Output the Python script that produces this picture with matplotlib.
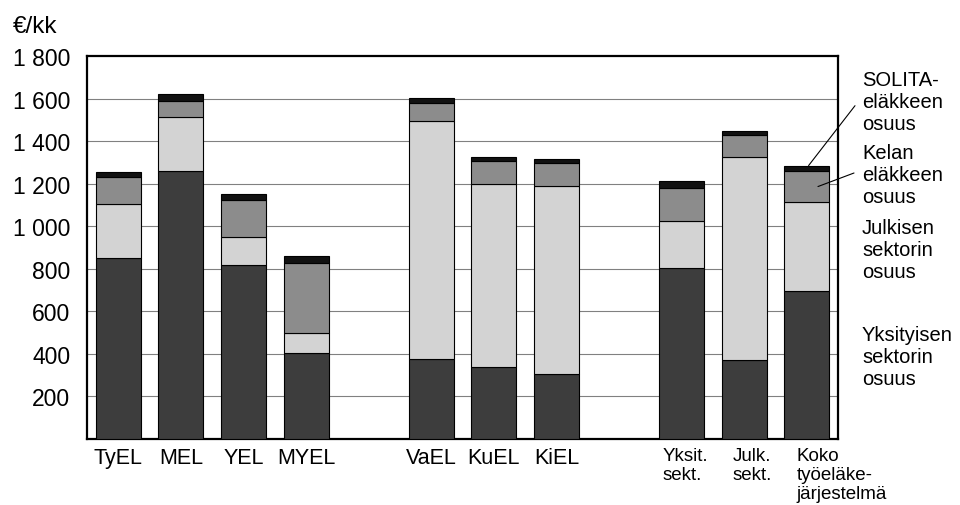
import matplotlib
matplotlib.use('Agg')
import matplotlib.pyplot as plt
import matplotlib.transforms as mtransforms
import numpy as np

plt.rcParams['font.family'] = ['Liberation Sans', 'DejaVu Sans']

categories = ['TyEL', 'MEL', 'YEL', 'MYEL', 'VaEL', 'KuEL', 'KiEL',
              'Yksit.\nsekt.', 'Julk.\nsekt.', 'Koko\ntyöeläke-\njärjestelmä']
yksityinen = [850, 1260, 818, 405, 375, 340, 305, 805, 373, 697]
julkinen = [255, 252, 133, 93, 1120, 857, 883, 218, 954, 418]
kela = [125, 75, 170, 330, 85, 108, 108, 158, 100, 143]
solita = [27, 35, 30, 32, 22, 20, 18, 32, 22, 27]
series_labels = ['Yksityisen\nsektorin\nosuus', 'Julkisen\nsektorin\nosuus',
                 'Kelan\neläkkeen\nosuus', 'SOLITA-\neläkkeen\nosuus']
yticks = [200, 400, 600, 800, 1000, 1200, 1400, 1600, 1800]
ytick_labels = ['200', '400', '600', '800', '1 000', '1 200', '1 400', '1 600', '1 800']
unit_label = '€/kk'

# layout: groups separated by empty slots
slots = np.array([0, 1, 2, 3, 5, 6, 7, 9, 10, 11], dtype=float)
colors = ['#3d3d3d', '#d3d3d3', '#8c8c8c', '#111111']

fig = plt.figure(figsize=(9.6, 5.06), dpi=100)
ax = fig.add_axes([87/960, 1-440/506, (838-87)/960, (440-57)/506])

series = [yksityinen, julkinen, kela, solita]
bottom = np.zeros(len(categories))
for vals, c in zip(series, colors):
    v = np.array(vals, dtype=float)
    ax.bar(slots, v, width=0.72, bottom=bottom, color=c, edgecolor='black',
           linewidth=0.8, zorder=3)
    bottom += v

ax.set_xlim(-0.5, 11.5)
ax.set_ylim(0, 1800)
ax.set_yticks(yticks)
ax.set_yticklabels(ytick_labels, fontsize=16.5)
for y in yticks[:-1]:
    ax.axhline(y, color='0.5', lw=0.8, zorder=1)
for s in ax.spines.values():
    s.set_linewidth(1.6)
ax.tick_params(axis='y', length=0, pad=12)
ax.tick_params(axis='x', length=0, pad=6)

ax.set_xticks(slots[:7])
ax.set_xticklabels(categories[:7], fontsize=15.5)
# multi-line labels for the last group, left aligned
trans = mtransforms.blended_transform_factory(ax.transData, ax.transAxes)
offsets = [-0.31, -0.18, -0.16]
for s, lab, off in zip(slots[7:], categories[7:], offsets):
    ax.text(s + off, -0.022, lab, transform=trans, ha='left', va='top',
            fontsize=13.5, linespacing=1.12)

fig.text(13/960, 1-33/506, unit_label, fontsize=17.5, ha='left', va='baseline')

# right-side labels
tops = [330, 223, 148, 75]
for lab, t in zip(series_labels, tops):
    fig.text(862/960, 1-(t-4)/506, lab, fontsize=14.5, ha='left', va='top',
             linespacing=1.19)

# leader lines to the last bar
last = len(categories) - 1
top_total = yksityinen[last] + julkinen[last] + kela[last] + solita[last]
kela_mid = yksityinen[last] + julkinen[last] + kela[last] / 2
ax.annotate('', xy=(slots[last] + 0.03, top_total), xycoords='data',
            xytext=(855/960, 1-106.7/506), textcoords='figure fraction',
            arrowprops=dict(arrowstyle='-', lw=0.8, color='black',
                            shrinkA=0, shrinkB=0), zorder=5)
ax.annotate('', xy=(slots[last] + 0.18, kela_mid), xycoords='data',
            xytext=(854/960, 1-174/506), textcoords='figure fraction',
            arrowprops=dict(arrowstyle='-', lw=0.8, color='black',
                            shrinkA=0, shrinkB=0), zorder=5)

fig.savefig('out.png', dpi=100)
